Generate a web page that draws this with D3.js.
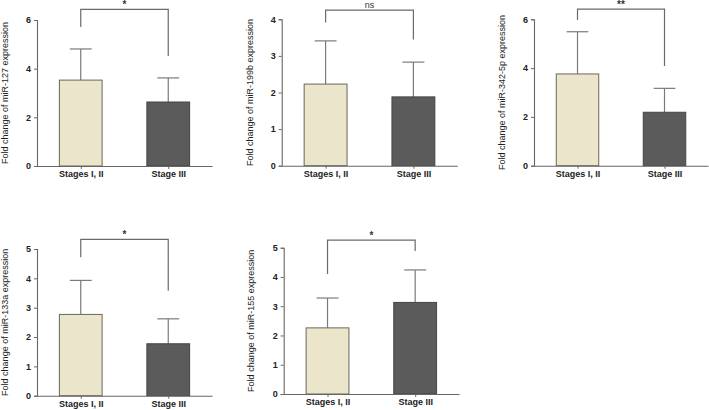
<!DOCTYPE html>
<html><head><meta charset="utf-8">
<script src="https://cdn.jsdelivr.net/npm/d3@7"></script>
<style>body{margin:0;background:#fff}svg{display:block}</style>
</head><body>
<svg id="c" width="709" height="410"></svg>
<script>
const categories = ["Stages I, II", "Stage III"];
const genes = ["miR-127", "miR-199b", "miR-342-5p", "miR-133a", "miR-155"];
const meanStage12 = [3.53, 2.23, 3.76, 2.77, 2.26];
const meanStage3  = [2.63, 1.88, 2.19, 1.77, 3.13];
const sdStage12   = [1.28, 1.18, 1.73, 1.16, 1.02];
const sdStage3    = [0.99, 0.95, 0.98, 0.85, 1.11];
const yMax        = [6, 4, 6, 5, 5];
const tickStep    = [2, 1, 2, 1, 1];
const significance = ["*", "ns", "**", "*", "*"];
const bracketLevel = [6.44, 4.25, 6.42, 5.33, 5.26];
const leftLegEnd   = [5.71, 3.91, 5.97, 4.72, 4.10];
const rightLegEnd  = [4.52, 3.45, 4.09, 3.58, 4.89];

// panel layout (pixels)
const layout = [
  {x0: 37,    x1: 212,   yTop: 20,    yBot: 166,   lx: 5},
  {x0: 281.7, x1: 457.3, yTop: 19.3,  yBot: 165.7, lx: 249.5},
  {x0: 534,   x1: 708,   yTop: 19.3,  yBot: 165.7, lx: 501.7},
  {x0: 37,    x1: 212,   yTop: 249,   yBot: 395.7, lx: 5},
  {x0: 283.7, x1: 459,   yTop: 247.7, yBot: 394,   lx: 250.5}
];
const fills = ["#ebe5cb", "#5b5b5b"];
const strokes = ["#6a6758", "#444444"];
const font = "Liberation Sans, Arial, sans-serif";

const svg = d3.select("#c");

genes.forEach((g, i) => {
  const L = layout[i];
  const gp = svg.append("g");
  const x = d3.scalePoint().domain(categories).range([L.x0, L.x1]).padding(0.5);
  const y = d3.scaleLinear().domain([0, yMax[i]]).range([L.yBot, L.yTop]);
  const bw = x.step() * 0.5;
  const means = [meanStage12[i], meanStage3[i]];
  const sds = [sdStage12[i], sdStage3[i]];

  // error bars (upper only)
  categories.forEach((c, k) => {
    const cx = x(c);
    gp.append("line").attr("x1", cx).attr("x2", cx)
      .attr("y1", y(means[k])).attr("y2", y(means[k] + sds[k]))
      .attr("stroke", "#7a7a7a").attr("stroke-width", 1.2);
    gp.append("line").attr("x1", cx - bw / 4).attr("x2", cx + bw / 4)
      .attr("y1", y(means[k] + sds[k])).attr("y2", y(means[k] + sds[k]))
      .attr("stroke", "#7a7a7a").attr("stroke-width", 1.2);
  });

  // bars
  categories.forEach((c, k) => {
    gp.append("rect")
      .attr("x", x(c) - bw / 2 + 0.5).attr("y", y(means[k]))
      .attr("width", bw - 1).attr("height", y(0) - y(means[k]))
      .attr("fill", fills[k]).attr("stroke", strokes[k]).attr("stroke-width", 1);
  });

  // y axis
  const ticks = d3.range(0, yMax[i] + 0.001, tickStep[i]);
  const ya = gp.append("g").attr("transform", `translate(${L.x0},0)`)
    .call(d3.axisLeft(y).tickValues(ticks).tickSize(3).tickPadding(3).tickFormat(d3.format("d")));
  ya.select(".domain").attr("stroke", "#666").attr("stroke-width", 1.1);
  ya.selectAll(".tick line").attr("stroke", "#666");
  ya.selectAll("text").attr("font-family", font).attr("font-weight", "bold")
    .attr("font-size", 9).attr("fill", "#222");

  // x axis
  const xa = gp.append("g").attr("transform", `translate(0,${L.yBot})`)
    .call(d3.axisBottom(x).tickSize(3).tickPadding(2).tickSizeOuter(0));
  xa.select(".domain").attr("stroke", "#666").attr("stroke-width", 1.1);
  xa.selectAll(".tick line").attr("stroke", "#666");
  xa.selectAll("text").attr("font-family", font).attr("font-weight", "bold")
    .attr("font-size", 9).attr("fill", "#222");

  // y label
  gp.append("text")
    .attr("transform", `translate(${L.lx + 3},${(L.yTop + L.yBot) / 2}) rotate(-90)`)
    .attr("text-anchor", "middle").attr("font-family", font)
    .attr("font-size", 9).attr("fill", "#222")
    .text(`Fold change of ${g} expression`);

  // significance bracket
  const xa1 = x(categories[0]), xa2 = x(categories[1]);
  const by = y(bracketLevel[i]);
  gp.append("path")
    .attr("d", `M${xa1},${y(leftLegEnd[i])}V${by}H${xa2}V${y(rightLegEnd[i])}`)
    .attr("fill", "none").attr("stroke", "#6a6a6a").attr("stroke-width", 1.2);
  gp.append("text")
    .attr("x", (xa1 + xa2) / 2).attr("y", by - (significance[i] === "ns" ? 2.5 : 1))
    .attr("text-anchor", "middle").attr("font-family", font)
    .attr("font-size", significance[i] === "ns" ? 9 : 10).attr("font-weight", significance[i] === "ns" ? "normal" : "bold")
    .attr("fill", "#333")
    .text(significance[i]);
});
</script>
</body></html>
